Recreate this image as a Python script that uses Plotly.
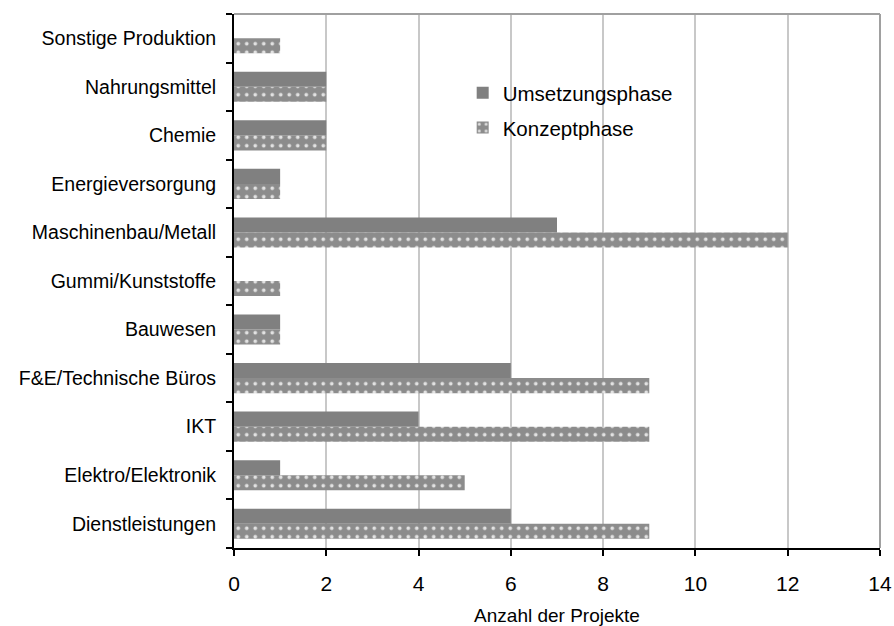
import plotly.graph_objects as go

categories = [
    "Dienstleistungen", "Elektro/Elektronik", "IKT", "F&E/Technische Büros",
    "Bauwesen", "Gummi/Kunststoffe", "Maschinenbau/Metall", "Energieversorgung",
    "Chemie", "Nahrungsmittel", "Sonstige Produktion",
]
umsetzung = [6, 1, 4, 6, 1, 0, 7, 1, 2, 2, 0]
konzept = [9, 5, 9, 9, 1, 1, 12, 1, 2, 2, 1]
x_ticks = [0, 2, 4, 6, 8, 10, 12, 14]

FONT = "Liberation Sans, Arial, sans-serif"

fig = go.Figure()
fig.add_trace(go.Bar(
    y=categories, x=konzept, orientation="h", name="Konzeptphase",
    marker=dict(color="#8c8c8c", line=dict(width=0),
                pattern=dict(shape=".", fgcolor="#e2e2e2", bgcolor="#8c8c8c",
                             size=8.5, solidity=0.15, fillmode="replace")),
    legend="legend2",
))
fig.add_trace(go.Bar(
    y=categories, x=umsetzung, orientation="h", name="Umsetzungsphase",
    marker=dict(color="#808080", line=dict(width=0)),
    legend="legend",
))

legend_style = dict(xanchor="left", yanchor="middle", bgcolor="rgba(0,0,0,0)",
                    font=dict(size=20.5, family=FONT, color="black"), itemwidth=30)

fig.update_layout(
    width=894, height=626,
    margin=dict(l=234, r=14, t=14, b=78),
    paper_bgcolor="white", plot_bgcolor="white",
    barmode="group", bargap=0.38, bargroupgap=0,
    font=dict(family=FONT, color="black"),
    showlegend=True,
    legend=dict(x=0.354, y=0.852, **legend_style),
    legend2=dict(x=0.354, y=0.787, **legend_style),
    xaxis=dict(
        range=[0, 14], tickvals=x_ticks, ticktext=[str(v) for v in x_ticks],
        showgrid=True, gridcolor="#c8c8c8", gridwidth=1.5,
        showline=True, linecolor="black", linewidth=2,
        ticks="outside", ticklen=6, tickcolor="black", tickwidth=2,
        tickfont=dict(size=21, family=FONT), ticklabelstandoff=10,
        title=dict(text="Anzahl der Projekte", font=dict(size=19, family=FONT), standoff=17),
        zeroline=False, automargin=False,
    ),
    yaxis=dict(
        categoryorder="array", categoryarray=categories,
        showline=True, linecolor="black", linewidth=2,
        ticks="outside", ticklen=6, tickcolor="black", tickwidth=2,
        tickson="boundaries", tickfont=dict(size=19.5, family=FONT),
        showgrid=False, ticklabelstandoff=12, automargin=False,
    ),
    shapes=[
        dict(type="line", xref="paper", yref="paper", x0=0, x1=1, y0=1, y1=1,
             line=dict(color="#a0a0a0", width=2)),
        dict(type="line", xref="paper", yref="paper", x0=1, x1=1, y0=0, y1=1,
             line=dict(color="#a0a0a0", width=2)),
    ],
)

fig.write_html("out.html")
